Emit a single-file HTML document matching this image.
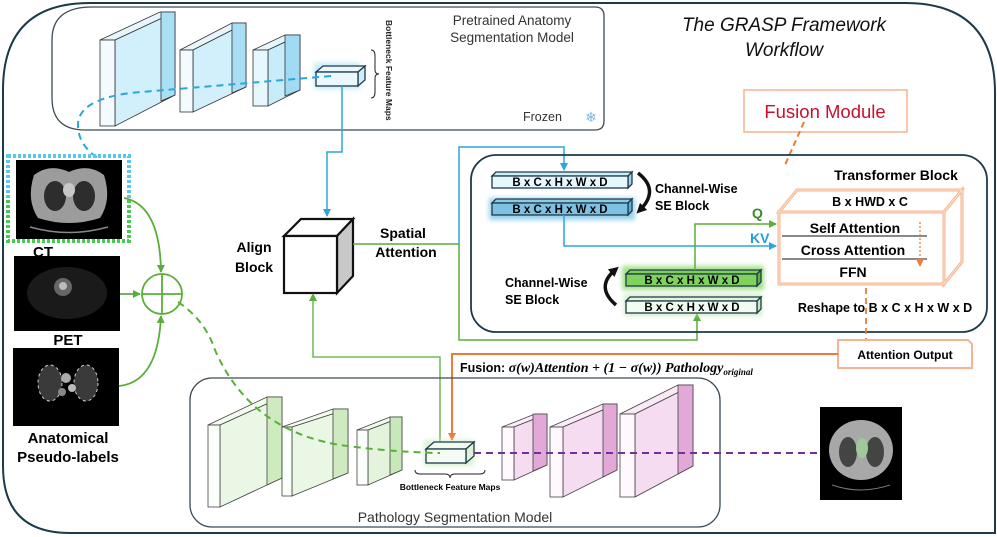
<!DOCTYPE html>
<html><head><meta charset="utf-8"><style>
html,body{margin:0;padding:0;background:#fff}
svg{display:block}
text{font-family:"Liberation Sans",sans-serif}
.b{font-weight:bold}
</style></head><body>
<svg width="997" height="537" viewBox="0 0 997 537" xmlns="http://www.w3.org/2000/svg">
<defs>
<marker id="ab" markerWidth="8" markerHeight="8" refX="7" refY="4" orient="auto" markerUnits="userSpaceOnUse"><path d="M0,0 L8,4 L0,8z" fill="#2aa6dc"/></marker>
<marker id="ag" markerWidth="8" markerHeight="8" refX="7" refY="4" orient="auto" markerUnits="userSpaceOnUse"><path d="M0,0 L8,4 L0,8z" fill="#5aae3a"/></marker>
<marker id="ao" markerWidth="8" markerHeight="8" refX="7" refY="4" orient="auto" markerUnits="userSpaceOnUse"><path d="M0,0 L8,4 L0,8z" fill="#ee7a3a"/></marker>
<marker id="ak" markerWidth="10" markerHeight="10" refX="5" refY="5" orient="auto" markerUnits="userSpaceOnUse"><path d="M0,0 L10,5 L0,10z" fill="#111"/></marker>
<filter id="gl" x="-30%" y="-60%" width="160%" height="220%"><feGaussianBlur stdDeviation="2.5"/></filter>
</defs>

<!-- outer frame -->
<path d="M90,3 H905 Q995,3 995,93 V533 H70 Q3,533 3,466 V90 Q3,3 90,3Z" fill="none" stroke="#1d3a4a" stroke-width="2"/>

<!-- top model box -->
<path d="M92,7 H595 Q604,7 604,16 V121 Q604,130 595,130 H85 Q52,130 52,98 V40 Q52,7 92,7Z" fill="none" stroke="#3a4a55" stroke-width="1.3"/>
<text x="512" y="25" font-size="13.5" text-anchor="middle" fill="#333">Pretrained Anatomy</text>
<text x="512" y="42" font-size="13.5" text-anchor="middle" fill="#333">Segmentation Model</text>
<text x="523" y="121" font-size="12.5" fill="#333">Frozen</text>
<text x="591" y="122" font-size="14" text-anchor="middle" fill="#7ab8e0">❄</text>

<!-- top slabs -->
<g stroke="#333" stroke-width="0.8">
<polygon points="100,40 160,12 175,12 115,40" fill="#e6f6fc"/>
<polygon points="115,40 175,12 175,95 115,126" fill="#d2f0fb"/>
<polygon points="161,12 175,12 175,95 161,101" fill="#a8dff5"/>
<rect x="100" y="40" width="15" height="86" fill="#eef9fd" fill-opacity="0.7"/>
<polygon points="180,50 232,23 246,23 193,50" fill="#e6f6fc"/>
<polygon points="193,50 246,23 246,87 193,112" fill="#d2f0fb"/>
<polygon points="232,23 246,23 246,87 232,93" fill="#a8dff5"/>
<rect x="180" y="50" width="13" height="62" fill="#eef9fd" fill-opacity="0.7"/>
<polygon points="253,50 285,35 300,35 268,50" fill="#e6f6fc"/>
<polygon points="268,50 300,35 300,90 268,106" fill="#c8edfa"/>
<polygon points="285,35 300,35 300,90 285,96" fill="#9fdcf4"/>
<rect x="253" y="50" width="15" height="56" fill="#e0f5fc" fill-opacity="0.8"/>
</g>
<rect x="314" y="63" width="46" height="26" fill="#9fdcf4" filter="url(#gl)" opacity="0.6"/>
<g stroke="#1d3a4a" stroke-width="1.3">
<polygon points="316,72 323,66 365,66 358,72" fill="#eaf8fd"/>
<polygon points="358,72 365,66 365,80 358,86" fill="#cdeefa"/>
<rect x="316" y="72" width="42" height="14" fill="#eaf8fd"/>
</g>
<path d="M371,50 q4,0 4,6 v14 q0,4 4,4 q-4,0 -4,4 v14 q0,6 -4,6" fill="none" stroke="#222" stroke-width="1"/>
<text transform="translate(386,20) rotate(90)" font-size="8.5" class="b" fill="#222">Bottleneck Feature Maps</text>

<!-- title -->
<text x="784" y="31" font-size="19" font-style="italic" text-anchor="middle" fill="#111">The GRASP Framework</text>
<text x="784" y="56" font-size="19" font-style="italic" text-anchor="middle" fill="#111">Workflow</text>

<!-- fusion module -->
<rect x="744" y="90" width="163" height="42" fill="#fff" stroke="#f5b48f" stroke-width="1.5"/>
<text x="825" y="118" font-size="18.5" text-anchor="middle" fill="#c8102e">Fusion Module</text>
<line x1="804" y1="122" x2="785" y2="165" stroke="#ee7a3a" stroke-width="2" stroke-dasharray="6,4"/>

<!-- blue dashed from bottleneck to CT -->
<path d="M331,76 L130,93 Q78,100 78,125 Q78,145 98,158" fill="none" stroke="#2aa6dc" stroke-width="2" stroke-dasharray="7,5"/>
<!-- blue to align -->
<polyline points="342,86 342,152 327,152 327,216" fill="none" stroke="#2aa6dc" stroke-width="1.5" marker-end="url(#ab)"/>

<!-- align block -->
<g stroke="#111" stroke-width="2.2">
<polygon points="284,236 301,219 353,219 337,236" fill="#fff"/>
<polygon points="337,236 353,219 353,276 337,293" fill="#c8c8c8"/>
<rect x="284" y="236" width="53" height="57" fill="#fff"/>
</g>
<text x="254" y="252" font-size="14" class="b" text-anchor="middle">Align</text>
<text x="254" y="272" font-size="14" class="b" text-anchor="middle">Block</text>
<text x="403" y="238" font-size="14" class="b" text-anchor="middle">Spatial</text>
<text x="406" y="257" font-size="14" class="b" text-anchor="middle">Attention</text>

<line x1="353" y1="244" x2="459" y2="244" stroke="#5aae3a" stroke-width="1.5"/>
<polyline points="459,244 459,147 564,147 564,170" fill="none" stroke="#2aa6dc" stroke-width="1.5" marker-end="url(#ab)"/>
<polyline points="459,244 459,340 697,340 697,314" fill="none" stroke="#5aae3a" stroke-width="1.5" marker-end="url(#ag)"/>

<!-- transformer area -->
<rect x="471" y="155" width="516" height="177" rx="25" fill="none" stroke="#1d3a4a" stroke-width="1.8"/>

<!-- blue bars -->
<g stroke="#1d3a4a" stroke-width="1.3">
<polygon points="492,176 496,172 632,172 628,176" fill="#cfeefa"/>
<polygon points="628,176 632,172 632,184 628,188" fill="#9fd7ef"/>
<rect x="492" y="176" width="136" height="12" fill="#e6f7fd"/>
</g>
<rect x="489" y="198" width="146" height="22" fill="#7fc6e8" filter="url(#gl)" opacity="0.8"/>
<g stroke="#1d3a4a" stroke-width="1.3">
<polygon points="492,203 496,199 632,199 628,203" fill="#8ccbe8"/>
<polygon points="628,203 632,199 632,211 628,215" fill="#5fb1d8"/>
<rect x="492" y="203" width="136" height="12" fill="#7fc1e2"/>
</g>
<text x="560" y="186" font-size="11.5" class="b" text-anchor="middle">B x C x H x W x D</text>
<text x="560" y="213" font-size="11.5" class="b" text-anchor="middle">B x C x H x W x D</text>
<path d="M638,173 Q660,190 640,210" fill="none" stroke="#111" stroke-width="3.5" marker-end="url(#ak)"/>
<text x="655" y="193" font-size="12.5" class="b">Channel-Wise</text>
<text x="655" y="210" font-size="12.5" class="b">SE Block</text>

<!-- green bars -->
<rect x="622" y="266" width="142" height="24" fill="#8ed86e" filter="url(#gl)" opacity="0.8"/>
<g stroke="#1d3a4a" stroke-width="1.3">
<polygon points="626,274 630,270 761,270 757,274" fill="#7dcf5a"/>
<polygon points="757,274 761,270 761,282 757,286" fill="#5fb33c"/>
<rect x="626" y="274" width="131" height="12" fill="#7fd35c"/>
</g>
<rect x="624" y="294" width="138" height="22" fill="#b8e4a4" filter="url(#gl)" opacity="0.6"/>
<g stroke="#1d3a4a" stroke-width="1.3">
<polygon points="626,301 630,297 761,297 757,301" fill="#e2f4db"/>
<polygon points="757,301 761,297 761,309 757,313" fill="#c9e8bd"/>
<rect x="626" y="301" width="131" height="12" fill="#f2fbef"/>
</g>
<text x="692" y="284" font-size="11.5" class="b" text-anchor="middle">B x C x H x W x D</text>
<text x="692" y="311" font-size="11.5" class="b" text-anchor="middle">B x C x H x W x D</text>
<path d="M616,305 Q595,287 615,270" fill="none" stroke="#111" stroke-width="3.5" marker-end="url(#ak)"/>
<text x="505" y="287" font-size="12.5" class="b">Channel-Wise</text>
<text x="505" y="304" font-size="12.5" class="b">SE Block</text>

<!-- Q KV lines -->
<polyline points="564,215 564,246 776,246" fill="none" stroke="#2aa6dc" stroke-width="1.5" marker-end="url(#ab)"/>
<polyline points="695,270 695,224 776,224" fill="none" stroke="#5aae3a" stroke-width="1.5" marker-end="url(#ag)"/>
<text x="752" y="218" font-size="14" class="b" fill="#3a8a2a">Q</text>
<text x="750" y="243" font-size="14" class="b" fill="#2a9ad8">KV</text>

<!-- transformer cube -->
<text x="896" y="180" font-size="14" class="b" text-anchor="middle">Transformer Block</text>
<g stroke="#f5b48f" stroke-width="3" fill="#fff">
<polygon points="779,212 797,190 962,190 944,212"/>
<polygon points="944,212 962,190 962,262 944,284"/>
<rect x="779" y="212" width="165" height="72"/>
</g>
<g stroke="#fbe0d0" stroke-width="1" fill="none">
<polygon points="779,212 797,190 962,190 944,212"/>
<polygon points="944,212 962,190 962,262 944,284"/>
<rect x="779" y="212" width="165" height="72"/>
</g>
<text x="870" y="206" font-size="12.5" class="b" text-anchor="middle">B x HWD x C</text>
<text x="855" y="233" font-size="14" class="b" text-anchor="middle">Self Attention</text>
<line x1="782" y1="236" x2="927" y2="236" stroke="#111" stroke-width="1"/>
<text x="853" y="255" font-size="14" class="b" text-anchor="middle">Cross Attention</text>
<line x1="782" y1="259" x2="927" y2="259" stroke="#111" stroke-width="1"/>
<text x="853" y="277" font-size="14" class="b" text-anchor="middle">FFN</text>
<line x1="920" y1="222" x2="920" y2="266" stroke="#ee7a3a" stroke-width="1.3" stroke-dasharray="2,2" marker-end="url(#ao)"/>
<text x="885" y="312" font-size="12.5" class="b" text-anchor="middle">Reshape to B x C x H x W x D</text>
<line x1="866" y1="288" x2="866" y2="340" stroke="#ee7a3a" stroke-width="1.8" stroke-dasharray="6,4"/>

<!-- attention output -->
<path d="M838,340 H968 L972,344 V368 H838Z" fill="#fff" stroke="#f5b48f" stroke-width="2"/>
<text x="905" y="359" font-size="12" class="b" text-anchor="middle">Attention Output</text>
<polyline points="838,354 452,354 452,440" fill="none" stroke="#ee7a3a" stroke-width="2" marker-end="url(#ao)"/>
<text x="460" y="372" font-size="12.5" class="b">Fusion: <tspan font-family="Liberation Serif" font-style="italic" font-size="14">σ(w)Attention + (1 − σ(w)) Pathology</tspan><tspan font-family="Liberation Serif" font-style="italic" font-size="9" dy="3">original</tspan></text>

<!-- green from bottleneck to align -->
<polyline points="440,444 440,357 313,357 313,294" fill="none" stroke="#5aae3a" stroke-width="1.3" marker-end="url(#ag)"/>

<!-- bottom model box -->
<rect x="190" y="378" width="530" height="149" rx="22" fill="none" stroke="#3a4a55" stroke-width="1.3"/>
<text x="455" y="522" font-size="14" text-anchor="middle" fill="#333">Pathology Segmentation Model</text>
<g stroke="#444" stroke-width="0.8">
<polygon points="208,425 267,397 282,397 220,425" fill="#f3fbef"/>
<polygon points="220,425 282,397 282,478 220,507" fill="#eaf7e4"/>
<polygon points="267,397 282,397 282,478 267,485" fill="#cdebbf"/>
<rect x="208" y="425" width="12" height="82" fill="#fafffa" fill-opacity="0.7"/>
<polygon points="282,427 333,409 348,409 292,427" fill="#f3fbef"/>
<polygon points="292,427 348,409 348,473 292,496" fill="#eaf7e4"/>
<polygon points="333,409 348,409 348,473 333,479" fill="#cdebbf"/>
<rect x="282" y="427" width="10" height="69" fill="#fafffa" fill-opacity="0.7"/>
<polygon points="357,430 390,417 402,417 368,430" fill="#f3fbef"/>
<polygon points="368,430 402,417 402,470 368,485" fill="#e4f4dc"/>
<polygon points="390,417 402,417 402,470 390,475" fill="#c7e8b8"/>
<rect x="357" y="430" width="11" height="55" fill="#fafffa" fill-opacity="0.7"/>
<polygon points="502,427 535,414 547,414 514,427" fill="#fbeaf7"/>
<polygon points="514,427 547,414 547,465 514,480" fill="#f6dcf0"/>
<polygon points="533,414 547,414 547,465 533,471" fill="#e2a8d8"/>
<rect x="502" y="427" width="12" height="53" fill="#fff6fd" fill-opacity="0.7"/>
<polygon points="550,427 603,404 617,404 563,427" fill="#fbeaf7"/>
<polygon points="563,427 617,404 617,470 563,497" fill="#f6dcf0"/>
<polygon points="603,404 617,404 617,470 603,477" fill="#e2a8d8"/>
<rect x="550" y="427" width="13" height="70" fill="#fff6fd" fill-opacity="0.7"/>
<polygon points="620,414 678,385 693,385 635,414" fill="#fbeaf7"/>
<polygon points="635,414 693,385 693,466 635,497" fill="#f6dcf0"/>
<polygon points="678,385 693,385 693,466 678,474" fill="#e2a8d8"/>
<rect x="620" y="414" width="15" height="83" fill="#fff6fd" fill-opacity="0.7"/>
</g>
<rect x="424" y="440" width="50" height="26" fill="#cdebbf" filter="url(#gl)" opacity="0.7"/>
<g stroke="#1d3a4a" stroke-width="1.3">
<polygon points="426,449 434,442 474,442 466,449" fill="#f3fbef"/>
<polygon points="466,449 474,442 474,456 466,463" fill="#e0f2d8"/>
<rect x="426" y="449" width="40" height="14" fill="#f6fcf3"/>
</g>
<path d="M415,470 q0,4 5,4 h25 q5,0 5,4 q0,-4 5,-4 h25 q5,0 5,-4" fill="none" stroke="#222" stroke-width="1"/>
<text x="450" y="490" font-size="8.5" class="b" text-anchor="middle">Bottleneck Feature Maps</text>

<!-- green dashed & purple dashed -->
<path d="M178,302 Q205,320 215,350 Q250,430 340,445 Q390,452 440,453" fill="none" stroke="#5aae3a" stroke-width="2" stroke-dasharray="7,5"/>
<line x1="474" y1="453" x2="820" y2="453" stroke="#7030a0" stroke-width="2" stroke-dasharray="7,5"/>

<!-- output image -->
<rect x="820" y="407" width="82" height="93" fill="#000"/>
<ellipse cx="861" cy="450" rx="32" ry="30" fill="#a8a8a8"/>
<ellipse cx="848" cy="452" rx="9" ry="15" fill="#444"/>
<ellipse cx="875" cy="452" rx="9" ry="15" fill="#444"/>
<ellipse cx="862" cy="448" rx="6" ry="10" fill="#9fc99a"/>
<path d="M832,485 Q861,495 890,485" stroke="#777" fill="none"/>

<!-- left images -->
<rect x="8" y="156" width="121" height="85" fill="none" stroke="#5bc8ea" stroke-width="4" stroke-dasharray="3,2"/>
<path d="M8,200 V241 H129 V200" fill="none" stroke="#44cc55" stroke-width="4" stroke-dasharray="3,2"/>
<rect x="16" y="160" width="106" height="79" fill="#000"/>
<path d="M34,175 Q50,163 69,172 Q88,163 104,175 Q112,200 100,218 Q69,228 38,218 Q26,200 34,175Z" fill="#9c9c9c"/>
<ellipse cx="55" cy="196" rx="11" ry="15" fill="#2d2d2d"/>
<ellipse cx="84" cy="196" rx="11" ry="15" fill="#2d2d2d"/>
<ellipse cx="69" cy="190" rx="6" ry="7" fill="#c8c8c8"/>
<path d="M30,227 Q69,238 108,227" stroke="#888" fill="none" stroke-width="1.5"/>
<text x="43" y="257" font-size="15" class="b" text-anchor="middle">CT</text>

<rect x="14" y="256" width="106" height="75" fill="#000"/>
<ellipse cx="67" cy="293" rx="40" ry="26" fill="#1a1a1a"/>
<ellipse cx="63" cy="287" rx="9" ry="9" fill="#666"/>
<circle cx="63" cy="286" r="4" fill="#bbb"/>
<text x="68" y="345" font-size="15" class="b" text-anchor="middle">PET</text>

<rect x="13" y="348" width="106" height="78" fill="#000"/>
<ellipse cx="50" cy="383" rx="12" ry="18" fill="#3a3a3a" stroke="#ccc" stroke-dasharray="3,3"/>
<ellipse cx="86" cy="383" rx="12" ry="18" fill="#3a3a3a" stroke="#ccc" stroke-dasharray="3,3"/>
<circle cx="66" cy="378" r="5" fill="#aaa"/><circle cx="72" cy="388" r="4" fill="#bbb"/><circle cx="62" cy="392" r="4" fill="#888"/>
<text x="68" y="443" font-size="15" class="b" text-anchor="middle">Anatomical</text>
<text x="68" y="462" font-size="15" class="b" text-anchor="middle">Pseudo-labels</text>

<!-- plus -->
<circle cx="162" cy="294" r="20" fill="none" stroke="#5aae3a" stroke-width="1.8"/>
<line x1="142" y1="294" x2="182" y2="294" stroke="#5aae3a" stroke-width="1.8"/>
<line x1="162" y1="274" x2="162" y2="314" stroke="#5aae3a" stroke-width="1.8"/>
<path d="M124,198 Q160,205 161,272" fill="none" stroke="#5aae3a" stroke-width="1.8" marker-end="url(#ag)"/>
<line x1="120" y1="294" x2="140" y2="294" stroke="#5aae3a" stroke-width="1.8" marker-end="url(#ag)"/>
<path d="M119,386 Q158,382 161,316" fill="none" stroke="#5aae3a" stroke-width="1.8" marker-end="url(#ag)"/>
</svg>
</body></html>
